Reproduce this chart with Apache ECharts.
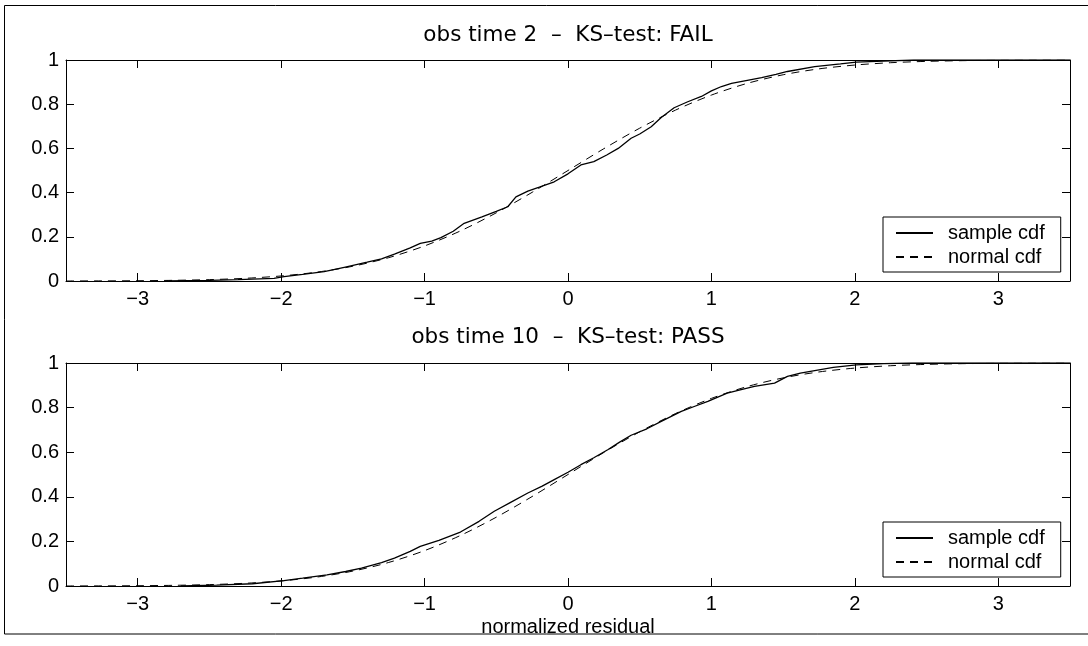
<!DOCTYPE html>
<html><head><meta charset="utf-8">
<script src="https://cdn.jsdelivr.net/npm/echarts@6/dist/echarts.min.js"></script>
<style>html,body{margin:0;padding:0;background:#fff}#c{width:1088px;height:646px}</style>
</head><body><div id="c"></div>
<script>
const xTicks = [-3, -2, -1, 0, 1, 2, 3];
const titles = ['obs time 2  \u2013  KS\u2013test: FAIL', 'obs time 10  \u2013  KS\u2013test: PASS'];
const xLabel = 'normalized residual';
const legendNames = ['sample cdf', 'normal cdf'];

// normal cdf
const normX = [-3.5,-3.25,-3,-2.75,-2.5,-2.25,-2,-1.75,-1.5,-1.25,-1,-0.75,-0.5,-0.25,0,0.25,0.5,0.75,1,1.25,1.5,1.75,2,2.25,2.5,2.75,3,3.25,3.5];
const normY = [0.0002,0.0006,0.0013,0.003,0.0062,0.0122,0.0228,0.0401,0.0668,0.1056,0.1587,0.2266,0.3085,0.4013,0.5,0.5987,0.6915,0.7734,0.8413,0.8944,0.9332,0.9599,0.9772,0.9878,0.9938,0.997,0.9987,0.9994,0.9998];

// sample cdf, obs time 2
const s1X = [-2.8,-2.5,-2.3,-2.15,-2.05,-1.98,-1.85,-1.7,-1.56,-1.4,-1.3,-1.21,-1.1,-1.03,-0.95,-0.886,-0.8,-0.724,-0.6,-0.5,-0.42,-0.363,-0.28,-0.2,-0.096,0,0.09,0.18,0.27,0.35,0.44,0.5,0.58,0.65,0.74,0.835,0.93,1.0,1.07,1.14,1.25,1.35,1.45,1.53,1.72,1.9,2.01,2.2,2.41,3.5];
const s1Y = [0,0.003,0.006,0.01,0.012,0.02,0.03,0.042,0.062,0.085,0.1,0.122,0.15,0.17,0.18,0.196,0.225,0.261,0.29,0.315,0.336,0.381,0.407,0.425,0.449,0.485,0.525,0.54,0.57,0.6,0.646,0.665,0.698,0.74,0.784,0.811,0.835,0.86,0.88,0.894,0.908,0.92,0.935,0.948,0.97,0.982,0.99,0.995,1,1];

// sample cdf, obs time 10
const s2X = [-2.7,-2.45,-2.2,-1.98,-1.85,-1.68,-1.55,-1.44,-1.3,-1.21,-1.1,-1.03,-0.9,-0.75,-0.62,-0.514,-0.4,-0.28,-0.18,-0.096,0,0.09,0.18,0.277,0.36,0.44,0.55,0.65,0.79,0.88,0.975,1.11,1.2,1.3,1.44,1.53,1.62,1.72,1.85,2.01,2.2,2.4,3.5];
const s2Y = [0,0.004,0.01,0.024,0.035,0.05,0.065,0.08,0.105,0.125,0.155,0.178,0.205,0.242,0.29,0.335,0.375,0.417,0.448,0.477,0.51,0.544,0.575,0.611,0.645,0.676,0.705,0.738,0.783,0.805,0.828,0.865,0.88,0.895,0.91,0.94,0.955,0.966,0.98,0.992,0.997,1,1];

const zip = (a, b) => a.map((v, i) => [v, b[i]]);
const FONT = '"Liberation Sans", Arial, sans-serif';

const grids = [
  {left: 66, right: 18, top: 60, height: 221},
  {left: 66, right: 18, top: 363, height: 223}
];

const lineBlack = {show: true, onZero: false, lineStyle: {color: '#000', width: 1}};
const xAxes = [], yAxes = [];
grids.forEach((g, gi) => {
  xAxes.push({
    type: 'value', gridIndex: gi, position: 'bottom', min: -3.5, max: 3.5,
    axisLine: lineBlack,
    axisTick: {show: true, inside: true, length: 8, customValues: xTicks, lineStyle: {color: '#000'}},
    axisLabel: {show: true, customValues: xTicks, color: '#000', fontSize: 20, fontFamily: FONT, margin: 8,
      formatter: v => (v < 0 ? '\u2212' + Math.abs(v) : String(v))},
    splitLine: {show: false},
    name: gi === 1 ? xLabel : '', nameLocation: 'middle', nameGap: 31,
    nameTextStyle: {color: '#000', fontSize: 20, fontFamily: FONT}
  });
  xAxes.push({
    type: 'value', gridIndex: gi, position: 'top', min: -3.5, max: 3.5,
    axisLine: lineBlack,
    axisTick: {show: true, inside: true, length: 8, customValues: xTicks, lineStyle: {color: '#000'}},
    axisLabel: {show: false}, splitLine: {show: false}
  });
  yAxes.push({
    type: 'value', gridIndex: gi, position: 'left', min: 0, max: 1, interval: 0.2,
    axisLine: lineBlack,
    axisTick: {show: true, inside: true, length: 8, lineStyle: {color: '#000'}},
    axisLabel: {color: '#000', fontSize: 20, fontFamily: FONT, margin: 7},
    splitLine: {show: false}
  });
  yAxes.push({
    type: 'value', gridIndex: gi, position: 'right', min: 0, max: 1, interval: 0.2,
    axisLine: lineBlack,
    axisTick: {show: true, inside: true, length: 8, lineStyle: {color: '#000'}},
    axisLabel: {show: false}, splitLine: {show: false}
  });
});

function sampleSeries(gi, data) {
  return {name: legendNames[0], type: 'line', xAxisIndex: gi * 2, yAxisIndex: gi * 2, data,
    symbol: 'none', silent: true, animation: false,
    lineStyle: {color: '#000', width: 1.3, type: 'solid'}, itemStyle: {color: '#000'}};
}
function normalSeries(gi) {
  return {name: legendNames[1], type: 'line', xAxisIndex: gi * 2, yAxisIndex: gi * 2, data: zip(normX, normY),
    symbol: 'none', silent: true, animation: false, smooth: 0.3,
    lineStyle: {color: '#000', width: 1, type: [8, 6]}, itemStyle: {color: '#000'}};
}

const legendCommon = {
  orient: 'vertical', data: legendNames, itemWidth: 37, itemHeight: 14, itemGap: 4,
  borderColor: '#000', borderWidth: 1, backgroundColor: '#fff', padding: [6, 16, 5, 12],
  itemStyle: {opacity: 0},
  textStyle: {color: '#000', fontSize: 20, fontFamily: FONT, padding: [0, 0, 0, 10]},
  selectedMode: false
};

const titleText = (txt, y) => ({
  type: 'text', x: 568, y: y,
  style: {text: txt, fill: '#000', font: '21.5px "DejaVu Sans", sans-serif',
    textAlign: 'center', textVerticalAlign: 'middle', align: 'center', verticalAlign: 'middle'}
});

const chart = echarts.init(document.getElementById('c'), null, {renderer: 'canvas'});
chart.setOption({
  backgroundColor: '#fff',
  animation: false,
  grid: grids,
  xAxis: xAxes,
  yAxis: yAxes,
  legend: [
    Object.assign({left: 883, top: 217}, legendCommon),
    Object.assign({left: 883, top: 522}, legendCommon)
  ],
  graphic: [
    {type: 'rect', shape: {x: 4.5, y: 5.5, width: 1100, height: 628.5},
      style: {fill: 'none', stroke: '#000', lineWidth: 1}, silent: true},
    titleText(titles[0], 35),
    titleText(titles[1], 337)
  ],
  series: [
    sampleSeries(0, zip(s1X, s1Y)), normalSeries(0),
    sampleSeries(1, zip(s2X, s2Y)), normalSeries(1)
  ]
});
</script></body></html>
